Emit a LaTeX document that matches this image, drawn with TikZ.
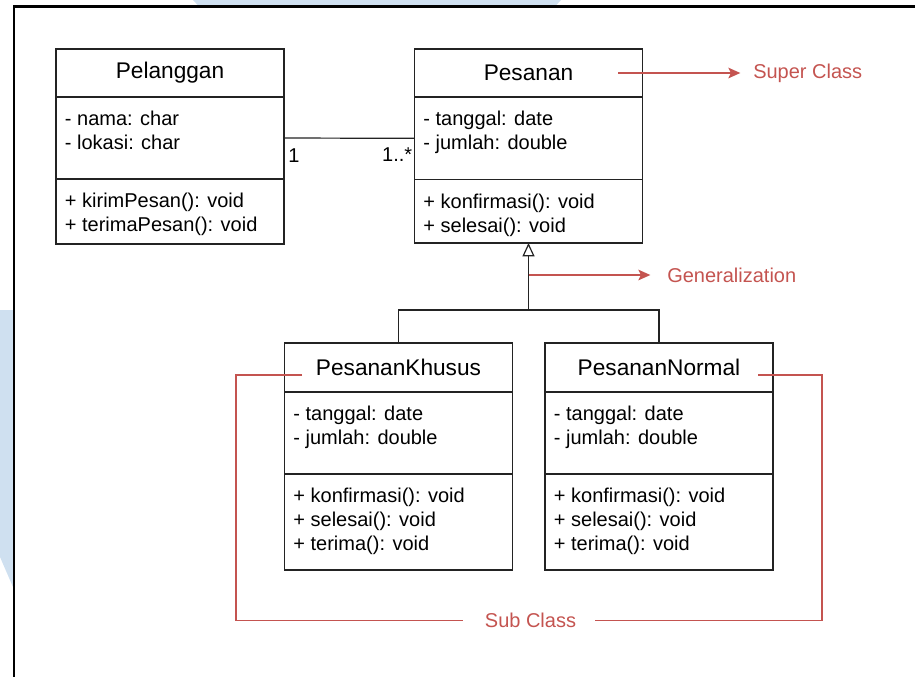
\documentclass[tikz,border=0pt]{standalone}
\usepackage{fontspec}
\setmainfont{Liberation Sans}
\usetikzlibrary{positioning,arrows.meta}

\definecolor{notered}{RGB}{196,84,80}
\definecolor{boxline}{RGB}{35,35,35}
\definecolor{markblue}{RGB}{207,224,240}
\newcommand\headfont{\fontsize{17}{20}\selectfont}
\newcommand\bodyfont{\fontsize{15}{18}\selectfont}

\tikzset{
  classhead/.style={draw=boxline, line width=0.9pt, minimum width=171pt, minimum height=36pt,
    inner sep=0pt, outer sep=0pt, font=\headfont},
  classpart/.style={draw=boxline, line width=0.9pt, minimum width=171pt, inner sep=0pt, outer sep=0pt},
  members/.style={anchor=north west, align=left, font=\bodyfont, inner xsep=6.5pt, inner ysep=10.5pt},
  mult/.style={font=\bodyfont, inner sep=0pt},
  note/.style={text=notered, font=\bodyfont, inner sep=0pt},
  redline/.style={draw=notered, line width=1pt},
  redarrow/.style={redline, -{Stealth[length=9pt, width=8pt, inset=2pt]}},
  genarrow/.style={draw=boxline, line width=0.9pt, -{Triangle[open, length=10pt, width=9pt, fill=white]}}
}

\begin{document}
\begin{tikzpicture}[x=0.75pt,y=0.75pt,yscale=-1,xscale=1]
\useasboundingbox (0,0) rectangle (915,676);
\clip (0,0) rectangle (915,676);

% watermark behind the frame
\fill[markblue] (193,0) -- (561,0) -- (555,6.5) -- (199,6.5) -- cycle;
\fill[markblue] (0,310) -- (13,310) -- (13,587) -- (0,557) -- cycle;
% frame
\draw[black, line width=1.8pt] (14,6.5) rectangle (940,700);

% Pelanggan
\node[classhead] (pelH) at (170,73) {Pelanggan};
\node[classpart, minimum height=61.5pt, below=0pt of pelH] (pelA) {};
\node[classpart, minimum height=48.75pt, below=0pt of pelA] (pelM) {};
\node[members] (pelAt) at (pelA.north west) {- nama: char\\- lokasi: char};
\node[members] (pelMt) at (pelM.north west) {+ kirimPesan(): void\\+ terimaPesan(): void};

% Pesanan
\node[classhead] (pesH) at (528.5,73) {Pesanan};
\node[classpart, minimum height=62pt, below=0pt of pesH] (pesA) {};
\node[classpart, minimum height=47.5pt, below=0pt of pesA] (pesM) {};
\node[members] (pesAt) at (pesA.north west) {- tanggal: date\\- jumlah: double};
\node[members] (pesMt) at (pesM.north west) {+ konfirmasi(): void\\+ selesai(): void};

% PesananKhusus
\node[classhead, minimum height=36.75pt] (khH) at (398.5,367.5) {PesananKhusus};
\node[classpart, minimum height=61.5pt, below=0pt of khH] (khA) {};
\node[classpart, minimum height=72pt, below=0pt of khA] (khM) {};
\node[members] (khAt) at (khA.north west) {- tanggal: date\\- jumlah: double};
\node[members] (khMt) at (khM.north west) {+ konfirmasi(): void\\+ selesai(): void\\+ terima(): void};

% PesananNormal
\node[classhead, minimum height=36.75pt] (noH) at (659,367.5) {PesananNormal};
\node[classpart, minimum height=61.5pt, below=0pt of noH] (noA) {};
\node[classpart, minimum height=72pt, below=0pt of noA] (noM) {};
\node[members] (noAt) at (noA.north west) {- tanggal: date\\- jumlah: double};
\node[members] (noMt) at (noM.north west) {+ konfirmasi(): void\\+ selesai(): void\\+ terima(): void};

% association
\draw[boxline, line width=0.9pt] (pelA.east) -- (pesA.west);
\node[mult, anchor=north west] (multOne) at ([xshift=3pt,yshift=7.5pt]pelA.east) {1};
\node[mult, anchor=north east] (multMany) at ([xshift=-1.5pt,yshift=6.5pt]pesA.west) {1..*};

% generalization
\coordinate (genJ) at (pesM.south |- 0,310);
\draw[boxline, line width=0.9pt] (khH.north) |- (genJ) -| (noH.north);
\draw[genarrow] (genJ) -- (pesM.south);

% notes
\node[note, anchor=west] (superTxt) at (753,73) {Super Class};
\coordinate (superTail) at (618,73);
\draw[redarrow, shorten >=9.5pt] (superTail) -- (superTxt.west);

\node[note, anchor=west] (genTxt) at (667,275) {Generalization};
\coordinate (genTail) at (pesM.south |- 0,275);
\draw[redarrow, shorten >=12.5pt] (genTail) -- (genTxt.west);

\node[note] (subTxt) at (530.5,620.5) {Sub Class};
\coordinate (subL) at (302,375);
\coordinate (subR) at (758,375);
\draw[redline, shorten >=16.5pt] (subL) -| (236,620.5) -- (subTxt.west);
\draw[redline, shorten >=14pt] (subR) -| (822,620.5) -- (subTxt.east);
\end{tikzpicture}
\end{document}
